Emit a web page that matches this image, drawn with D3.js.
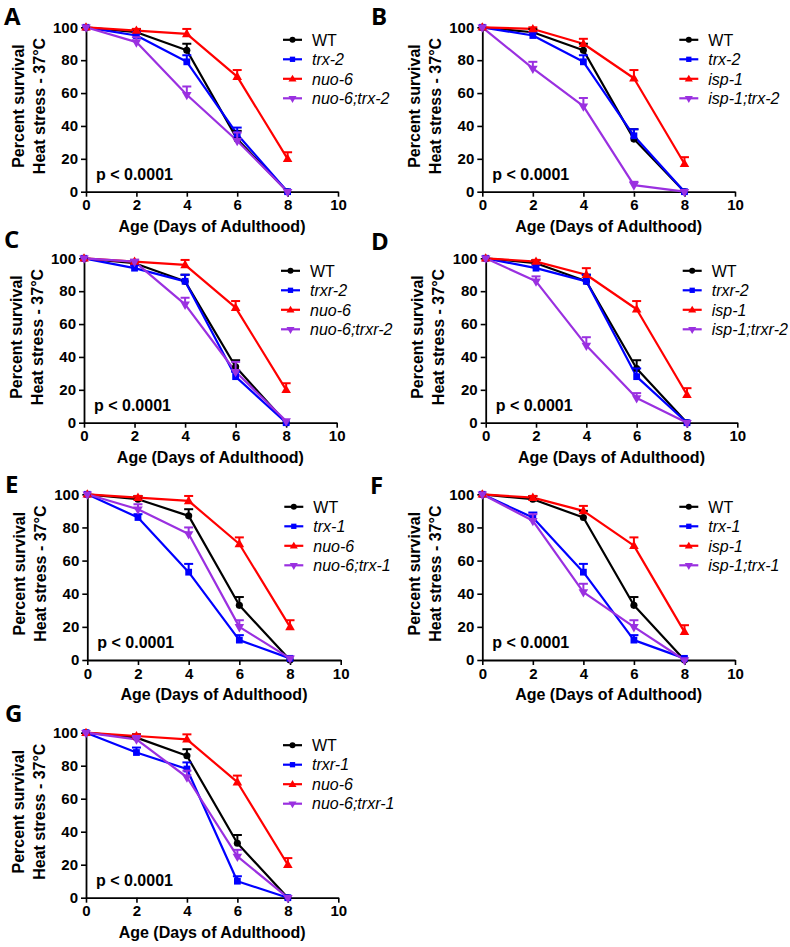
<!DOCTYPE html>
<html>
<head>
<meta charset="utf-8">
<script src="https://cdn.jsdelivr.net/npm/d3@7"></script>
<style>
  html, body { margin: 0; padding: 0; background: #fff; }
  svg { display: block; }
  text { font-family: "Liberation Sans", Arial, sans-serif; }
</style>
</head>
<body>
<svg id="chart" width="790" height="947"></svg>
<script>
// ---------------- DATA ----------------
const days = [0, 2, 4, 6, 8];
const xTickValues = [0, 2, 4, 6, 8, 10];
const yTickValues = [0, 20, 40, 60, 80, 100];
const panelLetters = ["A", "B", "C", "D", "E", "F", "G"];
const pValueLabel = "p < 0.0001";
const xAxisTitle = "Age (Days of Adulthood)";
const yAxisTitle = ["Percent survival", "Heat stress - 37°C"];

const legendA = ["WT", "trx-2", "nuo-6", "nuo-6;trx-2"];
const legendB = ["WT", "trx-2", "isp-1", "isp-1;trx-2"];
const legendC = ["WT", "trxr-2", "nuo-6", "nuo-6;trxr-2"];
const legendD = ["WT", "trxr-2", "isp-1", "isp-1;trxr-2"];
const legendE = ["WT", "trx-1", "nuo-6", "nuo-6;trx-1"];
const legendF = ["WT", "trx-1", "isp-1", "isp-1;trx-1"];
const legendG = ["WT", "trxr-1", "nuo-6", "nuo-6;trxr-1"];

// mean percent survival (rows: WT, single mutant, mito mutant, double mutant)
const survivalA = [[100, 97, 86, 32, 0], [100, 95, 79, 35, 0], [100, 98, 96, 70, 20], [100, 91, 59, 31, 0]];
const survivalB = [[100, 97, 86, 32, 0], [100, 95, 79, 34, 0], [100, 99, 90, 69, 17], [100, 75, 52, 4, 0]];
const survivalC = [[100, 97, 86, 34, 0], [100, 94, 86, 28, 0], [100, 98, 96, 70, 20], [100, 98, 72, 31, 1]];
const survivalD = [[100, 97, 86, 33, 0], [100, 94, 86, 28, 0], [100, 98, 90, 69, 17], [100, 86, 47, 15, 0]];
const survivalE = [[100, 97, 87, 33, 0], [100, 86, 53, 12, 1], [100, 98, 96, 70, 20], [100, 91, 76, 20, 1]];
const survivalF = [[100, 97, 86, 33, 0], [100, 86, 53, 12, 1], [100, 98, 90, 69, 17], [100, 84, 41, 20, 0]];
const survivalG = [[100, 97, 86, 33, 0], [100, 88, 78, 10, 0], [100, 98, 96, 70, 20], [100, 96, 73, 25, 0]];

// upper error (SEM) for each point
const errorA = [[0, 2, 4, 5, 0], [0, 2, 4, 4, 0], [0, 1, 3, 4, 4], [0, 3, 5, 5, 0]];
const errorB = [[0, 2, 4, 6, 0], [0, 2, 4, 4, 0], [0, 1, 3, 5, 4], [0, 4, 5, 2, 0]];
const errorC = [[0, 2, 4, 4, 0], [0, 2, 4, 3, 0], [0, 1, 3, 4, 4], [0, 1, 4, 6, 0]];
const errorD = [[0, 2, 4, 5, 0], [0, 2, 4, 5, 0], [0, 1, 4, 5, 4], [0, 3, 5, 3, 0]];
const errorE = [[0, 2, 4, 5, 0], [0, 2, 5, 3, 0], [0, 1, 3, 4, 4], [0, 3, 4, 4, 0]];
const errorF = [[0, 2, 4, 5, 0], [0, 3, 5, 3, 0], [0, 1, 3, 5, 4], [0, 4, 5, 4, 0]];
const errorG = [[0, 2, 4, 5, 0], [0, 3, 4, 3, 0], [0, 1, 3, 4, 4], [0, 2, 4, 4, 0]];

const seriesColors = ["#000000", "#0000ff", "#ff0000", "#9a30e0"];
const seriesShapes = ["circle", "square", "triangleUp", "triangleDown"];

// ---------------- LAYOUT ----------------
const panels = [
  { letter: panelLetters[0], names: legendA, mean: survivalA, err: errorA, x0: 86,    x1: 338,   yTop: 27.3,  yBot: 191.7, lx: 4,   ly: 25 },
  { letter: panelLetters[1], names: legendB, mean: survivalB, err: errorB, x0: 482.3, x1: 735,   yTop: 27.3,  yBot: 191.7, lx: 371, ly: 25 },
  { letter: panelLetters[2], names: legendC, mean: survivalC, err: errorC, x0: 84,    x1: 336.7, yTop: 258.3, yBot: 422.7, lx: 4,   ly: 248 },
  { letter: panelLetters[3], names: legendD, mean: survivalD, err: errorD, x0: 485.7, x1: 737.3, yTop: 258.3, yBot: 422.7, lx: 371, ly: 250 },
  { letter: panelLetters[4], names: legendE, mean: survivalE, err: errorE, x0: 87.3,  x1: 340.7, yTop: 494.3, yBot: 660,   lx: 5,   ly: 493 },
  { letter: panelLetters[5], names: legendF, mean: survivalF, err: errorF, x0: 482.3, x1: 735,   yTop: 494.3, yBot: 660,   lx: 370, ly: 494 },
  { letter: panelLetters[6], names: legendG, mean: survivalG, err: errorG, x0: 86,    x1: 338.3, yTop: 732.7, yBot: 897.7, lx: 5,   ly: 722 }
];

const svg = d3.select("#chart");

function symbolPath(shape, size) {
  if (shape === "circle") return d3.symbol(d3.symbolCircle, size)();
  if (shape === "square") return d3.symbol(d3.symbolSquare, size)();
  return d3.symbol(d3.symbolTriangle, size * 1.0)();
}
function symbolTransform(shape, px, py) {
  if (shape === "triangleDown") return `translate(${px},${py}) rotate(180)`;
  if (shape === "triangleUp") return `translate(${px},${py + 0.5})`;
  return `translate(${px},${py})`;
}
const markerSize = { circle: 40, square: 46, triangleUp: 40, triangleDown: 40 };

panels.forEach(p => {
  const x = d3.scaleLinear().domain([0, 10]).range([p.x0, p.x1]);
  const y = d3.scaleLinear().domain([0, 100]).range([p.yBot, p.yTop]);
  const g = svg.append("g");

  // panel letter
  g.append("text")
    .attr("x", p.lx).attr("y", p.ly)
    .style("font-family", "'Open Sans', 'Liberation Sans', sans-serif")
    .style("font-weight", "bold").style("font-size", "24px")
    .text(p.letter);

  // axes
  const xAxis = g.append("g")
    .attr("transform", `translate(0,${p.yBot})`)
    .call(d3.axisBottom(x).tickValues(xTickValues).tickSize(5).tickSizeOuter(0).tickPadding(3));
  const yAxis = g.append("g")
    .attr("transform", `translate(${p.x0},0)`)
    .call(d3.axisLeft(y).tickValues(yTickValues).tickSize(5).tickSizeOuter(0).tickPadding(3));
  [xAxis, yAxis].forEach(a => {
    a.select(".domain").attr("stroke", "#000").attr("stroke-width", 1.8);
    a.selectAll(".tick line").attr("stroke", "#000").attr("stroke-width", 1.6);
    a.selectAll(".tick text")
      .style("font-family", "'Liberation Sans', Arial, sans-serif")
      .style("font-weight", "bold").style("font-size", "15px").attr("fill", "#000");
  });

  // axis titles
  g.append("text")
    .attr("x", (p.x0 + p.x1) / 2).attr("y", p.yBot + 40)
    .attr("text-anchor", "middle")
    .style("font-weight", "bold").style("font-size", "16px")
    .text(xAxisTitle);
  const cy = (p.yTop + p.yBot) / 2 - 3.5;
  yAxisTitle.forEach((t, i) => {
    g.append("text")
      .attr("transform", `translate(${p.x0 - 68 + i * 21},${cy}) rotate(-90)`)
      .attr("text-anchor", "middle")
      .attr("dy", "0.35em")
      .style("font-weight", "bold").style("font-size", "16px")
      .text(t);
  });

  // p-value
  g.append("text")
    .attr("x", p.x0 + 10).attr("y", p.yBot - 12)
    .style("font-weight", "bold").style("font-size", "16px")
    .text(pValueLabel);

  // series
  const line = d3.line().x((d, i) => x(days[i])).y(d => y(d));
  p.mean.forEach((vals, s) => {
    const col = seriesColors[s];
    g.append("path")
      .datum(vals)
      .attr("d", line)
      .attr("fill", "none").attr("stroke", col).attr("stroke-width", 2.2)
      .attr("stroke-linejoin", "round");
  });
  p.mean.forEach((vals, s) => {
    const col = seriesColors[s];
    const errs = p.err[s];
    vals.forEach((v, i) => {
      const e = errs[i];
      if (e > 0) {
        const cx = x(days[i]);
        g.append("line")
          .attr("x1", cx).attr("x2", cx)
          .attr("y1", y(v)).attr("y2", y(v + e))
          .attr("stroke", col).attr("stroke-width", 2);
        g.append("line")
          .attr("x1", cx - 4.5).attr("x2", cx + 4.5)
          .attr("y1", y(v + e)).attr("y2", y(v + e))
          .attr("stroke", col).attr("stroke-width", 2);
      }
    });
    g.selectAll(null)
      .data(vals)
      .enter().append("path")
      .attr("d", symbolPath(seriesShapes[s], markerSize[seriesShapes[s]]))
      .attr("transform", (d, i) => symbolTransform(seriesShapes[s], x(days[i]), y(d)))
      .attr("fill", col);
  });

  // legend
  p.names.forEach((name, s) => {
    const ly = p.yTop + 12.5 + s * 19.5;
    const lx = p.x0 + 197;
    const col = seriesColors[s];
    g.append("line")
      .attr("x1", lx).attr("x2", lx + 19)
      .attr("y1", ly).attr("y2", ly)
      .attr("stroke", col).attr("stroke-width", 2.2);
    g.append("path")
      .attr("d", symbolPath(seriesShapes[s], 28))
      .attr("transform", symbolTransform(seriesShapes[s], lx + 9.5, ly))
      .attr("fill", col);
    g.append("text")
      .attr("x", p.x0 + 226).attr("y", ly)
      .attr("dy", "0.36em")
      .style("font-size", "16px")
      .style("font-style", s === 0 ? "normal" : "italic")
      .text(name);
  });
});
</script>
</body>
</html>
